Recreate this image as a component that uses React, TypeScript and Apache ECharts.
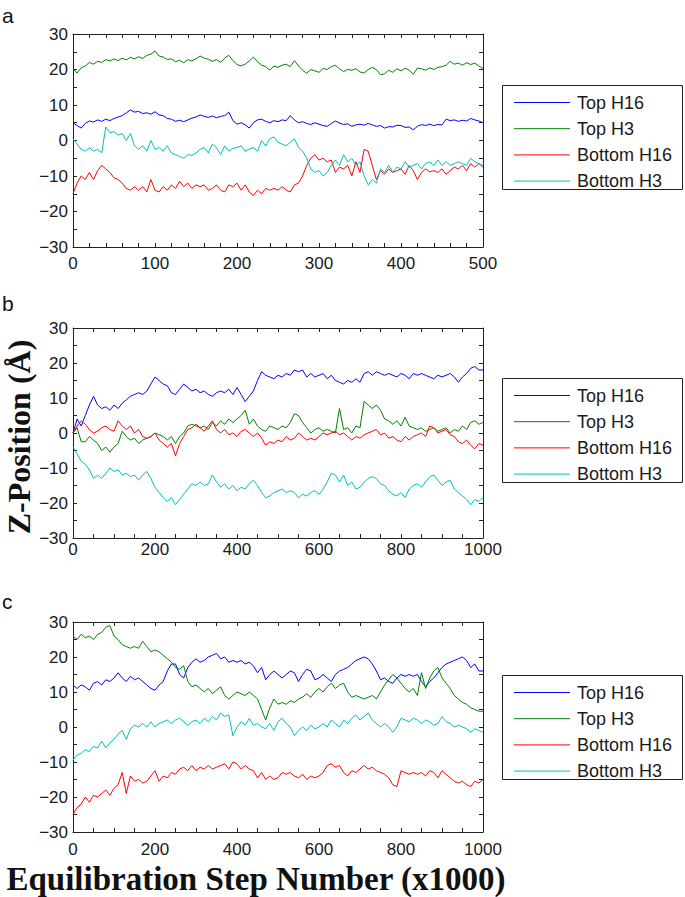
import React, { useEffect, useRef } from "react";
import * as echarts from "echarts";

// ---------- data ----------
const seriesNames = ["Top H16", "Top H3", "Bottom H16", "Bottom H3"];
const seriesColors = ["#0000ff", "#008000", "#ff0000", "#00bfbf"];

const stepsA = [0,5,10,15,20,25,30,35,40,45,50,55,60,65,70,75,80,85,90,95,100,105,110,115,120,125,130,135,140,145,150,155,160,165,170,175,180,185,190,195,200,205,210,215,220,225,230,235,240,245,250,255,260,265,270,275,280,285,290,295,300,305,310,315,320,325,330,335,340,345,350,355,360,365,370,375,380,385,390,395,400,405,410,415,420,425,430,435,440,445,450,455,460,465,470,475,480,485,490,495,500];
const stepsBC = [0,10,20,30,40,50,60,70,80,90,100,110,120,130,140,150,160,170,180,190,200,210,220,230,240,250,260,270,280,290,300,310,320,330,340,350,360,370,380,390,400,410,420,430,440,450,460,470,480,490,500,510,520,530,540,550,560,570,580,590,600,610,620,630,640,650,660,670,680,690,700,710,720,730,740,750,760,770,780,790,800,810,820,830,840,850,860,870,880,890,900,910,920,930,940,950,960,970,980,990,1000];

// panel a
const topH16A = [5.0,4.2,3.5,4.8,5.5,5.2,5.8,5.4,6.0,5.6,6.2,6.6,7.0,7.8,8.6,8.0,8.2,7.6,7.8,7.4,8.1,7.2,7.0,6.2,6.0,5.4,5.7,5.3,5.8,6.3,6.6,7.2,6.8,6.5,6.9,6.4,6.8,7.0,8.0,5.6,4.6,5.0,4.4,3.5,5.0,5.8,6.0,5.4,5.0,5.6,5.3,5.8,5.6,7.0,5.8,5.0,5.3,4.8,4.5,5.0,4.6,4.2,4.0,4.8,5.5,4.9,4.5,4.7,4.0,4.4,4.6,4.3,4.8,4.4,4.0,4.2,3.5,3.9,3.8,4.3,4.2,3.7,3.8,3.0,4.0,4.5,4.2,4.6,4.2,4.5,4.4,6.0,5.6,5.8,5.4,5.7,5.5,6.2,5.8,5.5,5.0];
const topH3A = [20.2,19.0,20.5,21.0,22.0,21.5,22.3,22.0,22.8,22.4,23.0,22.5,23.2,22.7,23.4,23.0,23.6,23.1,24.0,24.3,25.2,23.8,23.5,22.8,23.0,22.2,22.6,21.9,22.8,22.4,23.0,23.8,23.2,22.9,22.3,22.8,22.0,23.2,24.0,22.5,21.4,21.0,21.5,22.4,23.5,22.2,21.2,20.8,19.8,21.0,20.6,21.2,21.5,20.8,22.5,21.0,19.8,18.9,20.0,19.6,19.2,20.3,20.0,20.8,21.2,20.2,19.4,20.0,19.8,20.2,19.3,19.0,20.0,20.6,20.0,18.5,18.8,19.8,19.2,20.2,19.6,20.4,19.8,18.7,20.4,20.2,19.8,20.5,20.0,20.6,20.8,21.2,22.3,21.5,21.8,21.2,21.9,21.4,21.8,21.0,20.3];
const bottomH16A = [-15.0,-12.0,-10.0,-11.0,-9.0,-11.0,-8.5,-7.0,-8.0,-9.0,-10.5,-11.0,-12.0,-13.5,-14.0,-13.0,-14.0,-13.0,-14.5,-11.0,-14.0,-14.5,-13.0,-14.0,-12.5,-13.5,-11.5,-13.0,-12.0,-13.5,-12.5,-13.0,-12.5,-14.0,-13.5,-12.5,-14.0,-14.5,-12.5,-13.0,-12.0,-14.0,-12.5,-14.5,-15.5,-14.0,-15.0,-13.5,-14.0,-13.5,-14.0,-13.0,-14.0,-14.5,-12.5,-12.0,-10.0,-7.0,-5.0,-4.0,-5.5,-5.0,-6.0,-5.5,-9.0,-7.5,-8.0,-7.0,-10.0,-6.0,-9.0,-2.5,-3.0,-7.0,-11.0,-8.5,-9.5,-8.0,-9.0,-8.5,-8.0,-9.5,-7.0,-8.5,-11.0,-9.0,-8.0,-8.8,-8.5,-9.0,-8.0,-9.5,-8.5,-7.5,-8.0,-7.0,-8.5,-6.5,-7.5,-6.5,-7.5];
const bottomH3A = [0.5,-1.0,-2.5,-3.0,-2.0,-3.0,-2.5,-3.5,3.8,2.2,2.5,1.5,2.0,0.0,2.0,-1.5,-2.5,-1.5,-3.0,0.0,-2.5,-2.0,-3.0,-1.5,-3.5,-4.0,-4.5,-5.0,-4.0,-4.2,-3.5,-2.5,-2.0,-3.5,-1.0,-2.0,-4.0,-1.5,-3.0,-2.2,-2.0,-1.5,-3.0,-2.4,-2.0,-3.0,0.0,-1.5,0.5,1.0,-0.5,-1.0,-1.5,-0.5,0.5,-2.0,-3.0,-5.0,-8.0,-9.0,-8.5,-10.0,-9.0,-7.0,-5.5,-7.0,-4.0,-6.0,-5.0,-7.0,-6.0,-10.0,-12.5,-11.0,-12.0,-8.0,-9.0,-7.0,-9.0,-7.5,-8.0,-6.0,-7.5,-7.0,-6.5,-8.0,-6.5,-6.0,-7.0,-5.5,-7.0,-6.0,-7.0,-6.5,-6.0,-6.5,-7.0,-5.0,-6.0,-6.5,-7.0];

// panel b
const topH16B = [0.0,4.0,2.0,5.0,8.0,10.5,8.0,7.0,7.5,6.5,8.0,7.0,8.5,9.5,10.5,11.0,11.5,11.0,12.0,14.0,16.0,15.0,14.0,13.5,11.5,11.0,12.5,14.0,13.0,12.0,12.5,11.5,12.0,11.0,10.5,11.5,12.0,11.5,12.5,11.0,13.0,11.0,9.0,10.5,12.0,15.0,17.5,16.5,16.0,15.5,16.5,16.0,17.0,16.5,18.0,17.5,18.0,16.0,17.0,16.0,16.5,17.0,15.5,16.5,15.0,14.5,14.0,15.0,14.5,15.5,14.5,17.0,17.5,16.5,17.5,17.0,16.5,17.0,16.5,16.0,17.0,16.5,15.5,17.0,16.5,17.0,16.5,16.0,15.5,16.5,16.0,16.5,17.0,16.0,14.5,16.0,17.0,18.5,19.0,18.0,18.0];
const topH3B = [0.0,1.5,-2.5,-2.5,-1.0,-2.0,-3.0,-5.0,-4.0,-5.5,-4.0,-3.0,0.5,-1.0,-2.0,-1.5,-3.0,-2.0,-1.5,-1.0,0.0,-0.5,-1.0,-2.0,-1.0,-3.0,-1.0,0.0,2.0,2.5,2.0,1.5,2.0,1.0,3.0,2.0,3.5,2.5,4.0,3.0,4.0,5.0,6.5,2.5,4.0,2.0,1.0,0.5,2.0,1.5,1.0,2.0,1.5,3.0,5.5,5.0,3.0,1.5,0.0,1.0,1.5,0.5,1.0,0.5,0.0,7.0,1.0,1.5,0.0,2.0,1.5,9.0,8.0,7.0,8.0,6.5,4.0,3.5,2.5,3.5,2.0,4.5,2.0,1.5,1.0,1.5,0.5,1.0,1.5,0.5,1.0,1.5,0.0,1.0,0.5,2.0,1.0,3.0,3.5,2.5,3.0];
const bottomH16B = [0.0,2.0,3.5,2.5,1.0,0.0,0.5,1.5,2.0,1.0,0.5,3.5,2.0,1.0,2.0,0.0,1.0,-1.0,-1.5,-1.0,0.0,-2.0,-3.0,-4.0,-3.0,-6.5,-3.0,-1.0,1.0,1.5,2.5,1.5,0.5,2.0,3.5,1.0,0.0,1.0,-0.5,0.0,-1.0,0.5,1.0,0.0,-1.0,0.0,-1.5,-3.5,-2.5,-3.0,-2.0,-2.5,-1.0,-2.0,-1.5,0.0,-1.0,-2.0,-1.5,-2.0,-1.0,0.0,-0.5,0.0,0.5,-0.5,0.0,-1.0,-2.0,-1.0,-1.5,-0.5,0.0,0.5,1.0,-0.5,0.0,-1.5,-1.0,-2.0,-2.5,-1.0,-2.0,-1.0,-0.5,0.0,-1.0,2.0,1.5,0.0,0.5,1.0,-0.5,-1.0,-2.5,-3.0,-2.0,-3.5,-4.5,-3.0,-3.5];
const bottomH3B = [-4.0,-6.0,-8.0,-9.0,-10.5,-13.0,-12.0,-13.0,-11.5,-10.0,-11.0,-10.5,-12.0,-11.5,-12.5,-12.0,-13.5,-12.0,-11.0,-13.0,-15.5,-17.0,-18.5,-19.5,-18.5,-20.5,-19.0,-17.5,-16.0,-14.5,-15.0,-14.0,-15.0,-14.5,-12.0,-14.0,-15.5,-14.5,-16.0,-15.0,-16.5,-15.5,-16.0,-14.5,-13.5,-15.0,-17.0,-18.5,-18.0,-17.0,-16.5,-16.0,-17.0,-16.5,-17.0,-18.5,-17.5,-18.0,-17.0,-16.5,-17.5,-16.0,-14.0,-11.5,-12.0,-14.0,-12.0,-15.0,-14.0,-16.0,-15.5,-14.0,-13.0,-12.5,-13.0,-14.5,-15.0,-16.5,-17.5,-18.0,-17.0,-18.5,-16.0,-15.0,-14.5,-15.5,-14.0,-12.5,-12.0,-13.5,-15.0,-14.0,-13.5,-16.0,-17.0,-18.0,-19.0,-20.5,-19.0,-19.5,-18.5];

// panel c
const topH16C = [12,11,12,11.5,10.5,12.5,13,12,13.5,13,14,15.5,14,13,14.5,13.5,14,13,12,11,10.5,12,13,16,18,18,15,14,17,18.5,19.5,18.5,19,20,20.5,21,19.5,20,18.5,19,18.5,19,18,18.5,17.5,15.5,17,13.5,15,16,15,14,15,16,15.5,13,15,16.5,16,13.5,14,15,14,13,15,16,16.5,17,18,19,19.5,20,19.5,18,16,13.5,14,13,12.5,14,15,14.5,15,14.5,15,13,11.5,13,14,15.5,17,18,18.5,19,19.5,20,19,17,18,16,16];
const topH3C = [26,25,26.5,25.5,26,25,26.5,27,28.5,29,26,25,23.5,23,22.5,23,22.5,24.5,23,21.5,22,21.5,20.5,19.5,18.5,17,16.5,17.5,13,11.5,12,11,10,11,9.5,10.5,11.5,9,8,9,10,9.5,9,10,9,8,5,2,5.5,8,6.5,7,6.5,7.5,7,8,8.5,9.5,8.5,10,11,10,11.5,12.5,11,12,12.5,10,8.5,9,8.5,8,8.5,9,8,10,12,13.5,15,14,12.5,11,10,11,9,15.5,11,14,16,17,14,12.5,11,9,8,7,6.5,5.5,5,4.5,4.5];
const bottomH16C = [-25,-23,-22,-20,-21.5,-19.5,-20,-19,-18,-19.5,-17.5,-16.5,-13,-19,-14,-15.5,-15,-16,-15.5,-14,-12.5,-15.5,-14,-14.5,-13,-13.5,-12,-11.5,-12.5,-11,-12.5,-11.5,-12,-11,-12,-11.5,-11,-10.5,-12,-10,-10.5,-12,-11,-12,-12.5,-14.5,-13,-15,-14,-15,-14.5,-13,-13.5,-13,-14,-14.5,-13.5,-15,-14,-14.5,-14,-13,-11,-10.5,-11.5,-11,-13,-14,-12.5,-13,-12,-11,-12,-11.5,-12.5,-13,-13.5,-14.5,-16.5,-17,-12.5,-13,-13.5,-13,-13.5,-13,-14,-12.5,-13,-14.5,-12.5,-13.5,-14.5,-15.5,-16,-15.5,-16.5,-17,-15.5,-16,-15];
const bottomH3C = [-9.5,-8,-7.5,-6.5,-7,-5.5,-6,-4,-6,-4.5,-3.5,-2,-1,-3.5,-0.5,0.5,0,1,0,1.5,0,1,1.5,2,1,2,2.5,1.5,0.5,1.5,2,1,2.5,1.5,3,2,4,3,3.5,-2.5,0,1.5,0.5,2.5,0.5,1,0,-0.5,1,-1,1.5,2.5,1,0,-2.5,-1,0,-1,0.5,-0.5,0,1,0,2,1,0,2,1,2.5,3.5,2,3,4,2,1,0,1,0,-1.5,0,2.5,2,1.5,2.5,2,1,2,1.5,0.5,1,3,1.5,1,0,0.5,0,-0.5,-1.5,-0.5,-1,-1.5];

const yTicks = [-30, -20, -10, 0, 10, 20, 30];

// ---------- layout ----------
const FONT = "'Liberation Sans', Arial, Helvetica, sans-serif";
const SERIF = "'Liberation Serif', 'Times New Roman', serif";
const INK = "#222";

const panels = [
  { top: 34, height: 213, xmax: 500, xint: 100, xminor: 5, lblMargin: 8, legendTop: 85, steps: stepsA,
    data: [topH16A, topH3A, bottomH16A, bottomH3A], letter: "a", letterY: 15 },
  { top: 328, height: 210, xmax: 1000, xint: 200, xminor: 4, lblMargin: 3, legendTop: 378, steps: stepsBC,
    data: [topH16B, topH3B, bottomH16B, bottomH3B], letter: "b", letterY: 303 },
  { top: 622, height: 210, xmax: 1000, xint: 200, xminor: 4, lblMargin: 9, legendTop: 675, steps: stepsBC,
    data: [topH16C, topH3C, bottomH16C, bottomH3C], letter: "c", letterY: 601 },
];

const fmt = (v: number) => (v < 0 ? "\u2212" + Math.abs(v) : String(v));

function buildOption() {
  const grid: any[] = [];
  const xAxis: any[] = [];
  const yAxis: any[] = [];
  const series: any[] = [];
  const graphic: any[] = [];

  const lineStyle = { color: INK, width: 1 };
  const tick = { show: true, inside: true, length: 4, lineStyle: { color: INK, width: 1 } };

  panels.forEach((p, gi) => {
    grid.push({ left: 73, top: p.top, width: 410, height: p.height, show: false });
    const xBase = {
      type: "value", gridIndex: gi, min: 0, max: p.xmax, interval: p.xint,
      axisLine: { show: true, onZero: false, lineStyle },
      axisTick: tick,
      minorTick: { show: true, splitNumber: p.xminor, length: 4, lineStyle: { color: INK, width: 1 } },
      splitLine: { show: false }, minorSplitLine: { show: false },
    };
    xAxis.push({ ...xBase, position: "bottom",
      axisLabel: { show: true, fontSize: 17, fontFamily: FONT, color: "#1a1a1a", margin: p.lblMargin,
        showMinLabel: true, showMaxLabel: true, formatter: (v: number) => String(v) } });
    xAxis.push({ ...xBase, position: "top", axisLabel: { show: false } });
    const yBase = {
      type: "value", gridIndex: gi, min: -30, max: 30, interval: 10,
      axisLine: { show: true, onZero: false, lineStyle },
      axisTick: tick,
      minorTick: { show: true, splitNumber: 2, length: 4, lineStyle: { color: INK, width: 1 } },
      splitLine: { show: false }, minorSplitLine: { show: false },
    };
    yAxis.push({ ...yBase, position: "left",
      axisLabel: { show: true, fontSize: 17, fontFamily: FONT, color: "#1a1a1a", margin: 5,
        formatter: (v: number) => (yTicks.includes(v) ? fmt(v) : "") } });
    yAxis.push({ ...yBase, position: "right", axisLabel: { show: false } });

    p.data.forEach((vals, si) => {
      series.push({
        type: "line", name: seriesNames[si], xAxisIndex: gi * 2, yAxisIndex: gi * 2,
        data: p.steps.map((x, i) => [x, vals[i]]),
        symbol: "none", showSymbol: false, silent: true,
        lineStyle: { color: seriesColors[si], width: 1 },
        itemStyle: { color: seriesColors[si] },
      });
    });

    // legend box (drawn by hand, MATLAB style)
    const lt = p.legendTop;
    graphic.push({
      type: "rect", shape: { x: 502.5, y: lt + 0.5, width: 180, height: 104 },
      style: { fill: "#fff", stroke: INK, lineWidth: 1 }, z: 100,
    });
    seriesNames.forEach((n, si) => {
      const cy = lt + 17.5 + si * 26.2;
      graphic.push({
        type: "line", shape: { x1: 514, y1: cy, x2: 570, y2: cy },
        style: { stroke: seriesColors[si], lineWidth: 1 }, z: 101,
      });
      graphic.push({
        type: "text", x: 577, y: cy, z: 101,
        style: { text: n, fontSize: 18, fontFamily: FONT, fill: "#1a1a1a", align: "left", verticalAlign: "middle" },
      });
    });

    graphic.push({
      type: "text", x: 2, y: p.letterY, z: 101,
      style: { text: p.letter, fontSize: 21, fontFamily: FONT, fill: "#111", verticalAlign: "middle" },
    });
  });

  graphic.push({
    type: "text", x: 19, y: 437, rotation: Math.PI / 2, z: 101,
    style: { text: "Z-Position (\u00C5)", fontSize: 32, fontWeight: "bold", fontFamily: SERIF,
      fill: "#111", align: "center", verticalAlign: "middle" },
  });
  graphic.push({
    type: "text", x: 256, y: 879, z: 101,
    style: { text: "Equilibration Step Number (x1000)", fontSize: 33, fontWeight: "bold", fontFamily: SERIF,
      fill: "#111", align: "center", verticalAlign: "middle" },
  });

  return {
    animation: false,
    backgroundColor: "#ffffff",
    grid, xAxis, yAxis, series, graphic,
  };
}

export default function App() {
  const ref = useRef<HTMLDivElement>(null);
  useEffect(() => {
    if (!ref.current) return;
    const chart = echarts.init(ref.current, undefined, { renderer: "svg" });
    chart.setOption(buildOption() as any);
    return () => chart.dispose();
  }, []);
  return (
    <div
      ref={ref}
      style={{ position: "absolute", left: 0, top: 0, width: 685, height: 897, background: "#fff" }}
    />
  );
}
